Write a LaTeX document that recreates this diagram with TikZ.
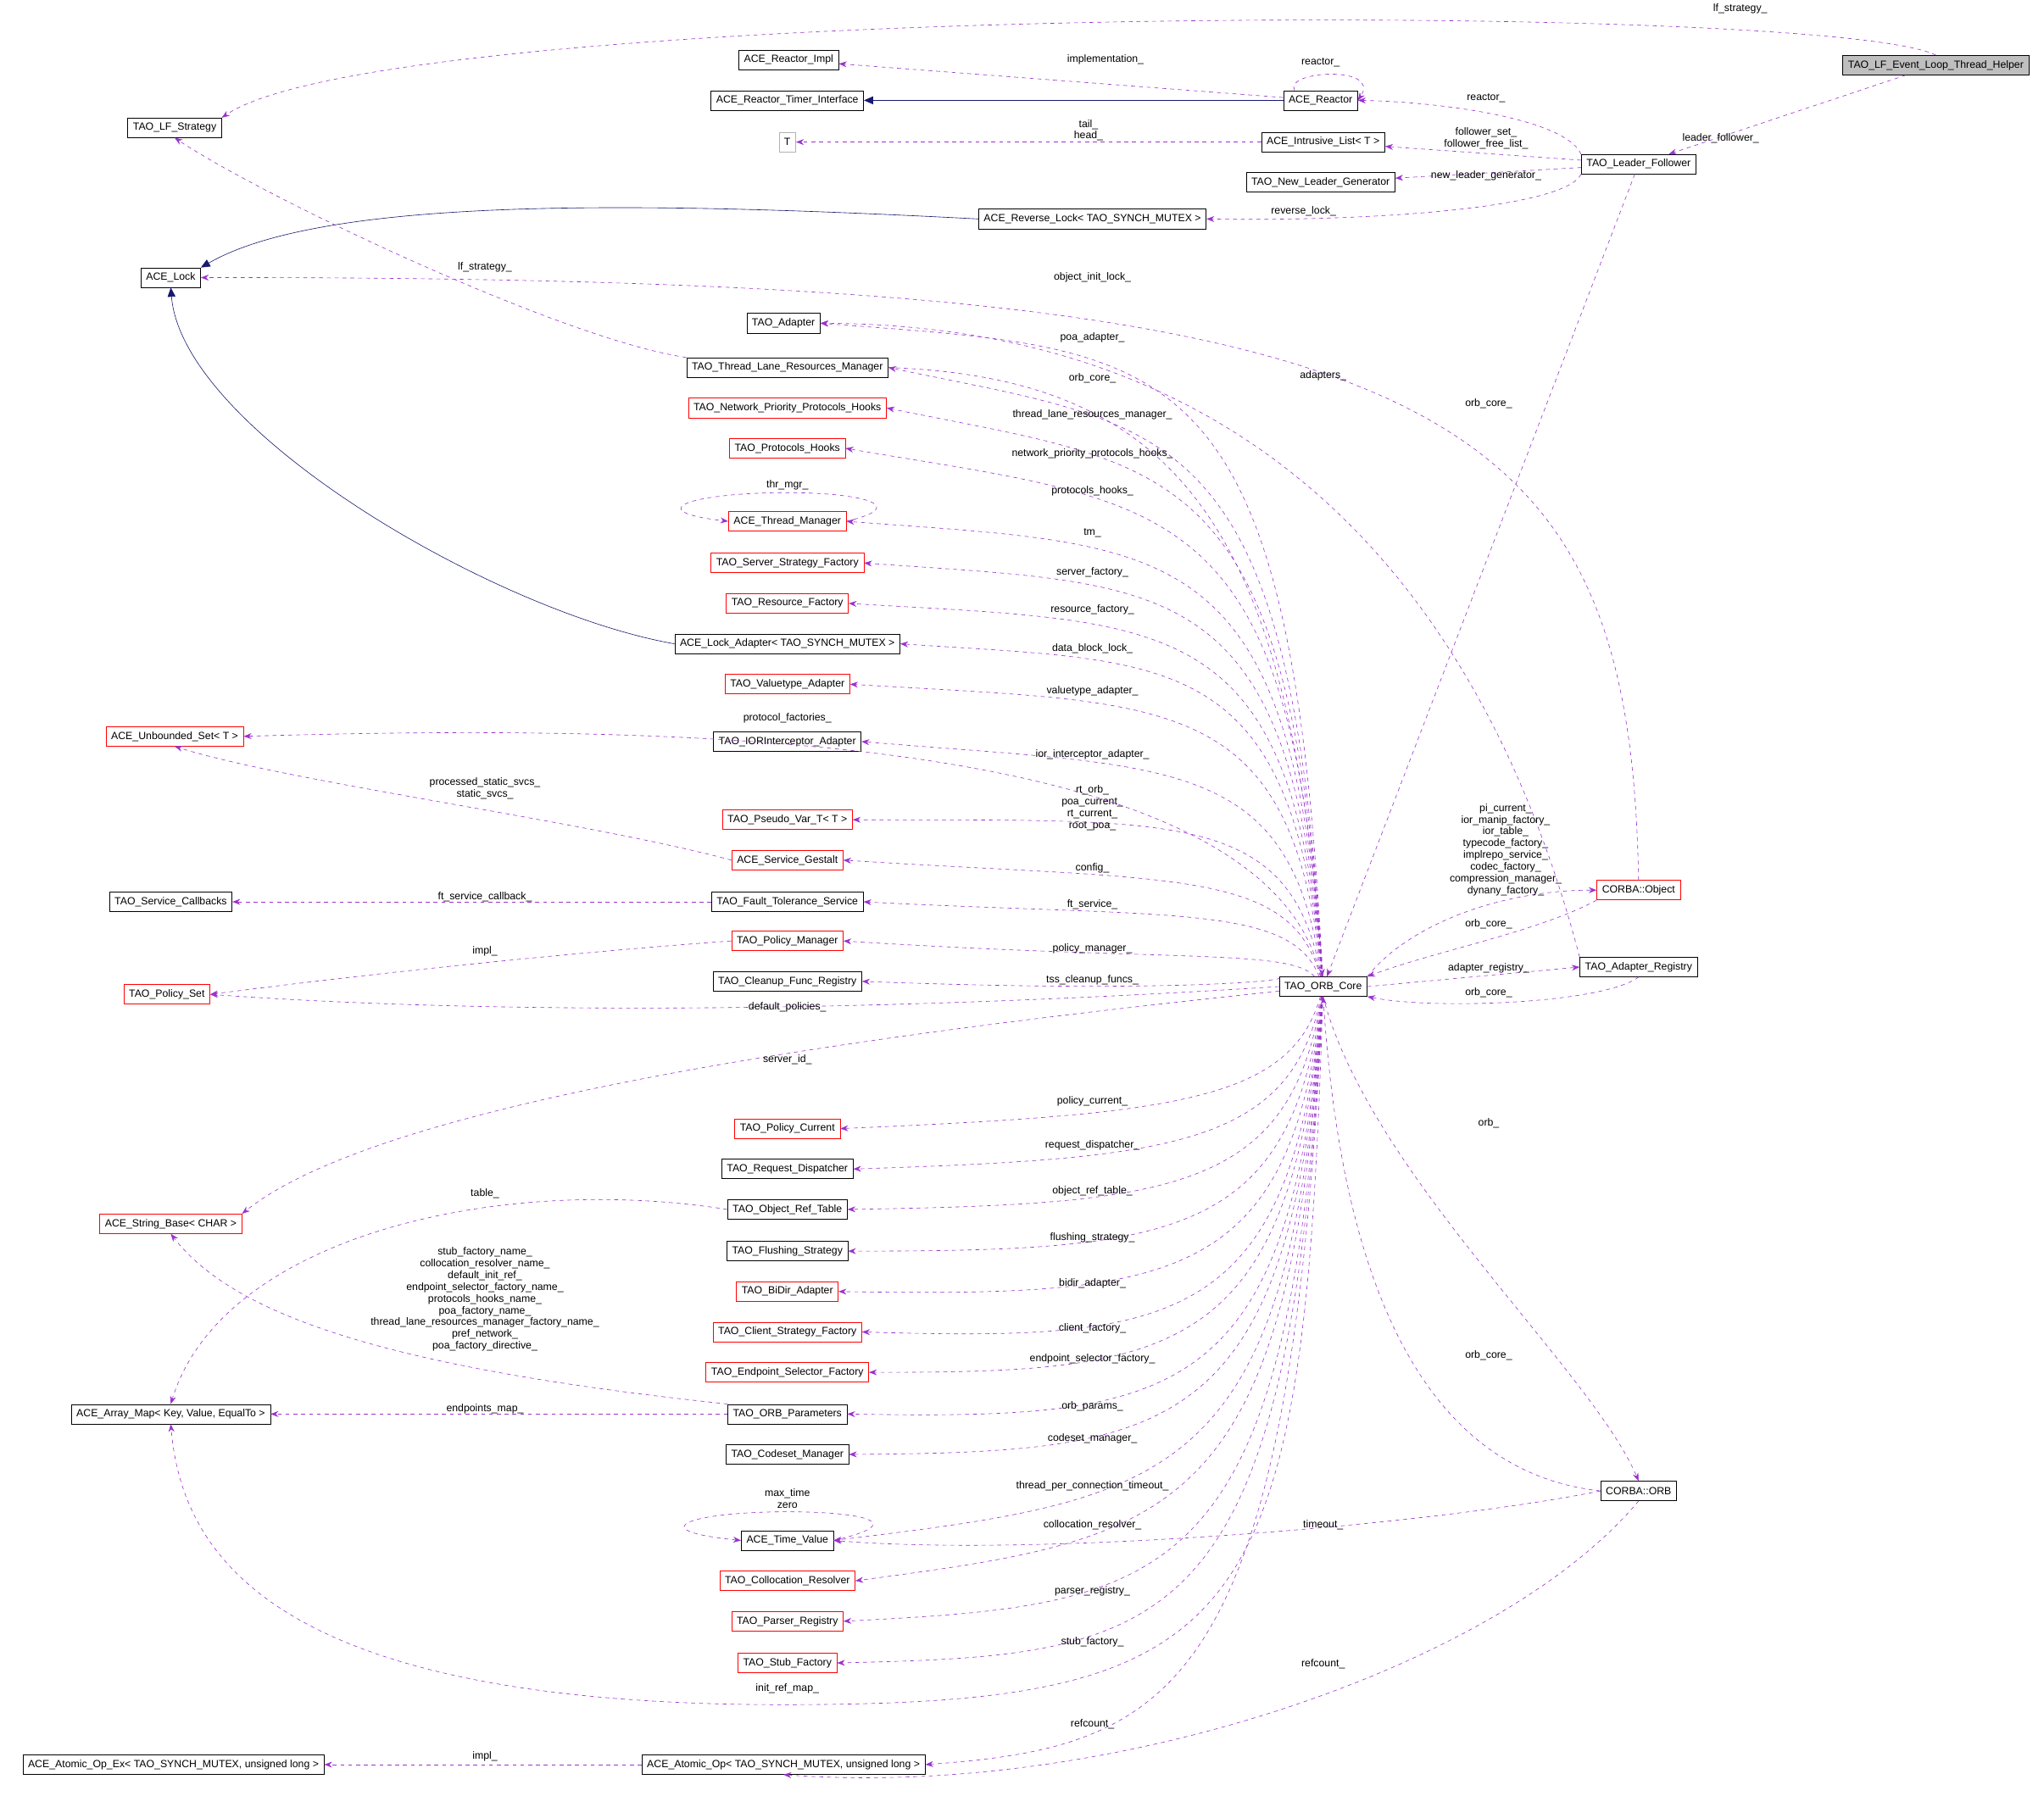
\documentclass[tikz,border=0pt]{standalone}
\usepackage{fontspec}
\setmainfont{Liberation Sans}
\usetikzlibrary{arrows.meta}
\definecolor{edgepurple}{HTML}{9A32CD}
\definecolor{inhblue}{HTML}{191970}
\newcommand{\orbref}[3]{\draw[ref] (orb) .. controls (990,#2) and (900,#2+10) .. (#1.east);
\node[lbl] at (838,#2) {#3};}
\begin{document}
\begin{tikzpicture}[x=1pt,y=-1pt,
 cls/.style={draw=black,fill=white,font=\fontsize{8}{9}\selectfont,inner xsep=4pt,inner ysep=0pt,minimum height=15pt},
 incomplete/.style={cls,draw=red},
 ref/.style={draw=edgepurple,dashed,-{Stealth[length=6pt,width=4.5pt]}},
 inh/.style={draw=inhblue,-{Triangle[length=7pt,width=6pt]}},
 lbl/.style={font=\fontsize{8}{9}\selectfont,align=center,inner sep=0pt}]
\useasboundingbox (0,0) rectangle (1568,1378);
% classes
\node[cls,fill=black!25] (helper) at (1485,50) {TAO\_LF\_Event\_Loop\_Thread\_Helper};
\node[cls] (lfs) at (134,98) {TAO\_LF\_Strategy};
\node[cls] (rimpl) at (605,46) {ACE\_Reactor\_Impl};
\node[cls] (rti) at (604,77) {ACE\_Reactor\_Timer\_Interface};
\node[cls] (rct) at (1013,77) {ACE\_Reactor};
\node[cls,draw=black!30] (t) at (604,109) {T};
\node[cls] (il) at (1015,109) {ACE\_Intrusive\_List< T >};
\node[cls] (nlg) at (1013,140) {TAO\_New\_Leader\_Generator};
\node[cls] (lf) at (1257,126) {TAO\_Leader\_Follower};
\node[cls] (rl) at (838,168) {ACE\_Reverse\_Lock< TAO\_SYNCH\_MUTEX >};
\node[cls] (lock) at (131,213) {ACE\_Lock};
\node[cls] (adp) at (601,248) {TAO\_Adapter};
\node[cls] (tlrm) at (604,282) {TAO\_Thread\_Lane\_Resources\_Manager};
\node[incomplete] (npph) at (604,313) {TAO\_Network\_Priority\_Protocols\_Hooks};
\node[incomplete] (ph) at (604,344) {TAO\_Protocols\_Hooks};
\node[incomplete] (tm) at (604,400) {ACE\_Thread\_Manager};
\node[incomplete] (ssf) at (604,432) {TAO\_Server\_Strategy\_Factory};
\node[incomplete] (rf) at (604,463) {TAO\_Resource\_Factory};
\node[cls] (la) at (604,494) {ACE\_Lock\_Adapter< TAO\_SYNCH\_MUTEX >};
\node[incomplete] (va) at (604,525) {TAO\_Valuetype\_Adapter};
\node[incomplete] (usb) at (134,565) {ACE\_Unbounded\_Set< T >};
\node[cls] (ioria) at (604,569) {TAO\_IORInterceptor\_Adapter};
\node[incomplete] (pvt) at (604,629) {TAO\_Pseudo\_Var\_T< T >};
\node[incomplete] (sg) at (604,660) {ACE\_Service\_Gestalt};
\node[cls] (scb) at (131,692) {TAO\_Service\_Callbacks};
\node[cls] (fts) at (604,692) {TAO\_Fault\_Tolerance\_Service};
\node[incomplete] (pm) at (604,722) {TAO\_Policy\_Manager};
\node[cls] (cfr) at (604,753) {TAO\_Cleanup\_Func\_Registry};
\node[incomplete] (ps) at (128,763) {TAO\_Policy\_Set};
\node[cls] (orb) at (1015,757) {TAO\_ORB\_Core};
\node[incomplete] (cobj) at (1257,683) {CORBA::Object};
\node[cls] (ar) at (1257,742) {TAO\_Adapter\_Registry};
\node[incomplete] (pc) at (604,866) {TAO\_Policy\_Current};
\node[cls] (rd) at (604,897) {TAO\_Request\_Dispatcher};
\node[incomplete] (sb) at (131,939) {ACE\_String\_Base< CHAR >};
\node[cls] (ort) at (604,928) {TAO\_Object\_Ref\_Table};
\node[cls] (fs) at (604,960) {TAO\_Flushing\_Strategy};
\node[incomplete] (bda) at (604,991) {TAO\_BiDir\_Adapter};
\node[incomplete] (csf) at (604,1022) {TAO\_Client\_Strategy\_Factory};
\node[incomplete] (esf) at (604,1053) {TAO\_Endpoint\_Selector\_Factory};
\node[cls] (am) at (131,1085) {ACE\_Array\_Map< Key, Value, EqualTo >};
\node[cls] (op) at (604,1085) {TAO\_ORB\_Parameters};
\node[cls] (cm) at (604,1116) {TAO\_Codeset\_Manager};
\node[cls] (tv) at (604,1182) {ACE\_Time\_Value};
\node[cls] (corb) at (1257,1144) {CORBA::ORB};
\node[incomplete] (cr) at (604,1213) {TAO\_Collocation\_Resolver};
\node[incomplete] (pr) at (604,1244) {TAO\_Parser\_Registry};
\node[incomplete] (sf) at (604,1276) {TAO\_Stub\_Factory};
\node[cls] (aoex) at (133,1354) {ACE\_Atomic\_Op\_Ex< TAO\_SYNCH\_MUTEX, unsigned long >};
\node[cls] (ao) at (601,1354) {ACE\_Atomic\_Op< TAO\_SYNCH\_MUTEX, unsigned long >};
% inheritance
\draw[inh] (rct) -- (rti);
\draw[inh] (rl.west) .. controls (500,155) and (250,150) .. (lock.north east);
\draw[inh] (la.west) .. controls (380,470) and (140,330) .. (lock.south);
% top part
\draw[ref] (helper.north) .. controls (1400,0) and (300,2) .. (lfs.north east);
\node[lbl] at (1335,7) {lf\_strategy\_};
\draw[ref] (helper) -- (lf);
\node[lbl] at (1320,106) {leader\_follower\_};
\draw[ref] (rct) -- (rimpl);
\node[lbl] at (848,46) {implementation\_};
\draw[ref] ([xshift=-20pt]rct.north) .. controls (985,54) and (1060,50) .. (rct.east);
\node[lbl] at (1013,48) {reactor\_};
\draw[ref] (lf.north west) .. controls (1200,90) and (1100,78) .. (rct.east);
\node[lbl] at (1140,75) {reactor\_};
\draw[ref] (lf) -- (il);
\node[lbl] at (1140,106) {follower\_set\_\\follower\_free\_list\_};
\draw[ref] (il) -- (t);
\node[lbl] at (835,100) {tail\_\\head\_};
\draw[ref] (lf) -- (nlg);
\node[lbl] at (1140,135) {new\_leader\_generator\_};
\draw[ref] (lf.south west) .. controls (1200,160) and (1050,170) .. (rl.east);
\node[lbl] at (1000,162) {reverse\_lock\_};
\draw[ref] (tlrm.north west) .. controls (430,260) and (200,150) .. (lfs.south);
\node[lbl] at (372,205) {lf\_strategy\_};
\draw[ref] (cobj.north) .. controls (1250,300) and (1100,212) .. (lock.east);
\node[lbl] at (838,213) {object\_init\_lock\_};
\draw[ref] (ar.north west) .. controls (1150,500) and (1000,250) .. (adp.east);
\node[lbl] at (1015,288) {adapters\_};
\draw[ref] (lf) -- (orb);
\node[lbl] at (1142,310) {orb\_core\_};
\draw[ref] (tlrm.east) .. controls (900,290) and (990,400) .. (orb);
\node[lbl] at (838,290) {orb\_core\_};
% ORB core members
\orbref{adp}{259}{poa\_adapter\_}
\orbref{tlrm}{318}{thread\_lane\_resources\_manager\_}
\orbref{npph}{348}{network\_priority\_protocols\_hooks\_}
\orbref{ph}{377}{protocols\_hooks\_}
\orbref{tm}{409}{tm\_}
\orbref{ssf}{439}{server\_factory\_}
\orbref{rf}{468}{resource\_factory\_}
\orbref{la}{498}{data\_block\_lock\_}
\orbref{va}{530}{valuetype\_adapter\_}
\orbref{ioria}{579}{ior\_interceptor\_adapter\_}
\orbref{pvt}{620}{rt\_orb\_\\poa\_current\_\\rt\_current\_\\root\_poa\_}
\orbref{sg}{666}{config\_}
\orbref{fts}{694}{ft\_service\_}
\orbref{pm}{728}{policy\_manager\_}
\orbref{cfr}{752}{tss\_cleanup\_funcs\_}
\orbref{pc}{845}{policy\_current\_}
\orbref{rd}{879}{request\_dispatcher\_}
\orbref{ort}{914}{object\_ref\_table\_}
\orbref{fs}{950}{flushing\_strategy\_}
\orbref{bda}{985}{bidir\_adapter\_}
\orbref{csf}{1019}{client\_factory\_}
\orbref{esf}{1043}{endpoint\_selector\_factory\_}
\orbref{op}{1079}{orb\_params\_}
\orbref{cm}{1104}{codeset\_manager\_}
\orbref{tv}{1140}{thread\_per\_connection\_timeout\_}
\orbref{cr}{1170}{collocation\_resolver\_}
\orbref{pr}{1221}{parser\_registry\_}
\orbref{sf}{1260}{stub\_factory\_}
\draw[ref] (orb) .. controls (970,558) and (500,556) .. (usb.east);
\node[lbl] at (604,551) {protocol\_factories\_};
\draw[ref] (orb.west) .. controls (700,775) and (400,780) .. (ps.east);
\node[lbl] at (604,773) {default\_policies\_};
\draw[ref] (orb) .. controls (700,790) and (300,840) .. (sb.north east);
\node[lbl] at (604,813) {server\_id\_};
\draw[ref] (orb) .. controls (1000,1250) and (960,1308) .. (600,1308) .. controls (220,1308) and (140,1200) .. (am.south);
\node[lbl] at (604,1296) {init\_ref\_map\_};
\draw[ref] (orb) .. controls (990,1300) and (900,1340) .. (ao.east);
\node[lbl] at (838,1323) {refcount\_};
% object, registry, orb
\draw[ref] (orb.north east) .. controls (1080,710) and (1150,683) .. (cobj.west);
\node[lbl] at (1155,652) {pi\_current\_\\ior\_manip\_factory\_\\ior\_table\_\\typecode\_factory\_\\implrepo\_service\_\\codec\_factory\_\\compression\_manager\_\\dynany\_factory\_};
\draw[ref] (cobj.south west) .. controls (1180,715) and (1100,730) .. (orb.north east);
\node[lbl] at (1142,709) {orb\_core\_};
\draw[ref] (orb.east) -- (ar.west);
\node[lbl] at (1142,743) {adapter\_registry\_};
\draw[ref] (ar.south) .. controls (1230,770) and (1100,775) .. (orb.south east);
\node[lbl] at (1142,762) {orb\_core\_};
\draw[ref] (orb.south) .. controls (1050,900) and (1220,1050) .. (corb.north);
\node[lbl] at (1142,862) {orb\_};
\draw[ref] (corb.west) .. controls (1100,1130) and (1030,1000) .. (orb.south);
\node[lbl] at (1142,1040) {orb\_core\_};
\draw[ref] (corb.west) .. controls (1100,1170) and (800,1195) .. (tv.east);
\node[lbl] at (1015,1170) {timeout\_};
\draw[ref] (corb.south) .. controls (1150,1280) and (850,1380) .. (ao.south);
\node[lbl] at (1015,1277) {refcount\_};
% left side members
\draw[ref] (sg.west) .. controls (450,630) and (220,600) .. (usb.south);
\node[lbl] at (372,605) {processed\_static\_svcs\_\\static\_svcs\_};
\draw[ref] (fts) -- (scb);
\node[lbl] at (372,688) {ft\_service\_callback\_};
\draw[ref] (pm.west) .. controls (450,730) and (300,745) .. (ps.east);
\node[lbl] at (372,730) {impl\_};
\draw[ref] (ort.west) .. controls (380,900) and (170,950) .. (am.north);
\node[lbl] at (372,916) {table\_};
\draw[ref] (op.north west) .. controls (300,1050) and (180,1010) .. (sb.south);
\node[lbl] at (372,997) {stub\_factory\_name\_\\collocation\_resolver\_name\_\\default\_init\_ref\_\\endpoint\_selector\_factory\_name\_\\protocols\_hooks\_name\_\\poa\_factory\_name\_\\thread\_lane\_resources\_manager\_factory\_name\_\\pref\_network\_\\poa\_factory\_directive\_};
\draw[ref] (op) -- (am);
\node[lbl] at (372,1081) {endpoints\_map\_};
\draw[ref] (ao) -- (aoex);
\node[lbl] at (372,1348) {impl\_};
% self loops
\draw[ref] (tm.east) .. controls (700,388) and (660,378) .. (604,378) .. controls (530,378) and (490,392) .. (tm.west);
\node[lbl] at (604,372) {thr\_mgr\_};
\draw[ref] (tv.east) .. controls (700,1168) and (660,1160) .. (604,1160) .. controls (530,1160) and (490,1174) .. (tv.west);
\node[lbl] at (604,1150) {max\_time\\zero};
\end{tikzpicture}
\end{document}
